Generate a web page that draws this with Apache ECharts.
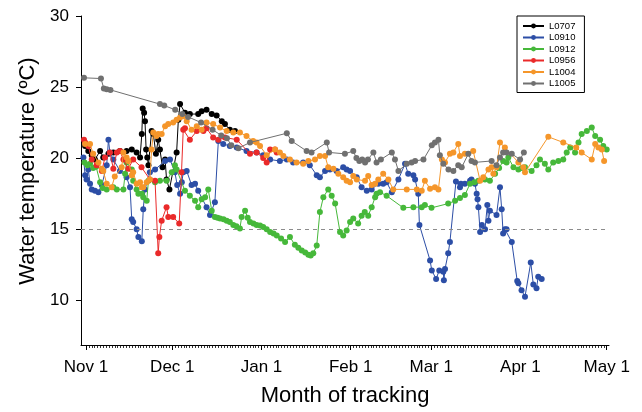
<!DOCTYPE html>
<html>
<head>
<meta charset="utf-8">
<script src="https://cdn.jsdelivr.net/npm/echarts@6/dist/echarts.min.js"></script>
<style>
  html, body { margin: 0; padding: 0; background: #fff; }
  #chart { width: 642px; height: 412px; }
</style>
</head>
<body>
<div id="chart"></div>
<script>
// Days are counted from Nov 1; temperatures in ºC.
const monthTicks = [0, 30, 61, 92, 120, 151, 181];
const monthLabels = ['Nov 1', 'Dec 1', 'Jan 1', 'Feb 1', 'Mar 1', 'Apr 1', 'May 1'];
const tempTicks = [10, 15, 20, 25, 30];
const threshold = 15;

const tagNames = ['L0707', 'L0910', 'L0912', 'L0956', 'L1004', 'L1005'];
const tagColors = ['#000000', '#2c4ea6', '#46b83a', '#ea2a2a', '#f5962a', '#707070'];

const L0707 = [[-0.3,20.85],[0.8,20.5],[2,20.2],[3.1,19.9],[4.9,20.5],[6,20.05],[7.8,20.3],[9.5,20.4],[11.8,20.5],[14.1,20.5],[15.9,20.6],[17.6,20.4],[18.8,20.05],[19.4,21.7],[19.7,23.5],[20.2,23.2],[20.5,22.6],[20.9,20.6],[21.3,20.05],[21.7,19.5],[22.8,21.9],[23.4,21.7],[24.3,20.3],[25.1,21.3],[25.7,20.6],[26.6,19.35],[27.5,19.9],[28,18.5],[29,17.8],[31.5,20.4],[32.1,22.7],[32.7,23.8],[34.4,23.2],[36.1,23.1],[39,23.1],[40.2,23.3],[41.9,23.4],[43.7,23.1],[45.4,23.0],[47.2,22.6],[48.3,22.4],[50,22.0],[51.8,21.9]];

const L0910 = [[-0.9,20.05],[-0.3,18.8],[0.2,18.5],[0.8,19.2],[1.4,18.2],[2,17.8],[3.1,17.7],[4.3,17.6],[5.5,18.1],[7.2,19.5],[7.8,21.3],[8.3,20.4],[9.5,19.9],[11.8,19.1],[14.1,18.65],[15.3,17.95],[15.9,15.7],[16.4,15.5],[17.6,15.0],[18.2,14.45],[19.4,14.15],[19.9,16.4],[20.5,17.8],[22.2,19.0],[24,19.2],[27.5,19.8],[29.2,19.9],[30.9,19.0],[31.7,18.1],[32.7,17.5],[33.3,18.3],[33.8,19.0],[35,19.1],[36.7,18.1],[37.9,18.2],[39,17.7],[41.9,16.55],[43.1,16.0],[44.8,16.9],[46,21.2],[47.7,21.0],[50,20.85],[52.4,20.75],[55.8,20.5],[59.3,20.4],[61.6,20.2],[64,19.9],[67.4,19.8],[69.8,19.9],[72,19.7],[75.5,19.7],[77.8,19.5],[80.2,18.8],[81.3,18.65],[83.1,19.1],[84.8,19.2],[87.1,19.1],[89.4,19.35],[90.6,19.2],[91.8,19.1],[94.1,18.65],[95.8,17.95],[97.6,17.7],[99.3,17.8],[101.6,18.2],[103.3,18.2],[104.5,18.3],[106.3,17.6],[108.6,18.5],[110.9,19.6],[112,18.9],[113.8,18.8],[114.4,18.5],[115.5,17.5],[115.9,15.3],[119.6,12.8],[120.2,12.1],[121.7,11.5],[122.8,12.1],[124.2,12.0],[124.4,11.4],[124.8,12.2],[125.9,13.3],[126.5,14.1],[128.6,18.35],[130,17.95],[130.3,18.2],[131.7,18.2],[133.5,18.4],[134,18.5],[135.2,18.2],[135.8,17.5],[136.1,17.1],[136.4,16.55],[137,14.8],[137.6,15.3],[138.7,15.0],[139.5,16.7],[139.9,15.6],[140.4,16.3],[142.7,16.0],[143.9,17.95],[144.5,16.4],[145,14.7],[145.6,15.0],[146.2,15.0],[148,14.1],[149.9,11.35],[150.3,11.2],[151.4,10.7],[152.6,10.25],[154.6,12.65],[155.5,11.1],[156.6,10.85],[157.2,11.65],[158.4,11.5]];

const L0912 = [[-0.5,19.7],[0.5,19.5],[1.4,19.6],[2.5,19.3],[3.5,19.4],[4.9,18.3],[5.8,17.9],[7.2,17.8],[9.5,17.95],[10.7,17.8],[13,17.8],[13.6,18.9],[14.1,19.7],[15.9,19.2],[16.4,18.4],[17.6,17.8],[18.2,17.5],[19.4,17.5],[19.9,17.25],[21.1,17.0],[21.7,18.4],[24,18.3],[25.7,18.4],[28,18.4],[29.8,19.0],[30.9,19.5],[31.5,19.2],[34.4,17.7],[36.1,17.35],[37.9,17.0],[39,16.55],[40.2,17.1],[41.4,17.25],[42.5,17.8],[43.7,16.3],[44.8,15.85],[45.7,15.8],[46.6,15.75],[47.8,15.7],[48.9,15.6],[50,15.5],[51.2,15.3],[52.3,15.2],[53.5,15.05],[54.1,15.85],[55.3,16.3],[56.2,15.8],[57,15.5],[58.2,15.4],[59.3,15.3],[60.5,15.25],[61.6,15.15],[62.8,15.0],[64,14.8],[65.2,14.7],[66.3,14.55],[67.8,14.35],[69.2,14.1],[70.9,14.45],[72.6,13.9],[73.8,13.7],[75,13.5],[76.2,13.35],[77.3,13.2],[78.1,13.15],[79,13.3],[80.2,13.85],[81.3,16.2],[82.5,17.25],[84.2,17.8],[85.4,17.35],[86.6,16.8],[88.3,14.8],[89.4,14.55],[90.6,14.9],[91.8,15.5],[92.9,15.75],[94.6,15.4],[95.8,15.95],[96.9,16.2],[98.1,15.95],[99.3,16.55],[100.5,17.25],[101,17.5],[102.2,17.6],[104.5,17.35],[110.3,16.5],[113.8,16.55],[116.7,16.55],[117.8,16.7],[120.1,16.5],[125.9,16.8],[128.3,17.0],[130,17.2],[131.7,17.4],[133.5,18.2],[135,18.3],[136.4,18.4],[138.7,18.5],[140.4,18.4],[142.2,18.9],[143.6,19.3],[145,19.8],[146.2,19.7],[146.8,20.05],[148.6,19.35],[150.3,19.2],[151.5,19.3],[152.6,19.35],[154.9,19.1],[156.6,19.5],[157.8,19.9],[159.5,19.6],[160.7,19.2],[162.4,19.7],[164.2,19.8],[165.9,19.9],[167.1,20.4],[168.3,20.75],[170,20.4],[171.2,21.1],[172.3,21.7],[174.1,21.9],[175.8,22.15],[177,21.55],[178.7,21.3],[179.8,20.85],[181,20.6]];

const L0956 = [[-0.7,21.3],[-0.3,21.1],[0.8,20.85],[2,19.9],[3.7,19.5],[5.5,19.1],[6.6,20.05],[8.3,20.4],[9.5,19.25],[10.7,20.4],[11.8,20.5],[13,19.9],[14.7,19.25],[16.4,19.9],[19.3,19.35],[22.2,18.5],[24,18.4],[25.1,13.3],[25.5,14.45],[26.3,15.6],[28,16.55],[28.6,15.85],[30.3,15.85],[32.4,15.4],[33.2,19.0],[33.8,22.0],[34.4,22.1],[36.1,21.3],[38.5,21.9],[40.8,21.9],[41.9,22.1],[44.2,21.45],[46,21.3],[48.3,21.45],[52.4,21.3],[57,20.3],[59.3,20.4],[61.6,20.0],[62.8,19.7],[64,20.6],[65.7,20.6],[66.3,20.4]];

const L1004 = [[-0.3,21.0],[1.4,21.0],[2.5,20.3],[4.3,19.7],[5.5,19.25],[6,19.1],[7.2,18.2],[8.9,17.95],[10,18.7],[12.4,19.35],[13,20.4],[14.1,20.05],[14.7,19.8],[15.9,18.8],[16.4,19.0],[17.6,18.2],[18.8,18.3],[19.4,17.95],[19.9,17.95],[21.1,18.3],[22.2,18.5],[22.8,20.6],[23.4,21.8],[24.5,21.55],[25.1,21.7],[26.3,21.7],[27.5,22.25],[28.6,22.4],[30.3,22.5],[31.5,22.7],[32.7,22.85],[33.8,22.95],[35,22.6],[36.7,22.0],[38.5,22.25],[40.2,22.0],[41.9,22.5],[44.2,22.4],[46.6,22.15],[48.9,21.9],[51.2,21.8],[53.5,21.8],[55.8,21.55],[58.1,21.2],[59.3,21.1],[60.5,20.85],[62.8,20.2],[65.7,20.6],[67.4,20.4],[68.6,20.15],[70.9,19.9],[73.2,19.7],[75.5,19.6],[77.3,19.8],[79.6,19.9],[81.3,20.15],[83.1,20.15],[84.2,19.35],[86,19.25],[87.7,18.9],[89.4,18.65],[90.6,18.4],[91.8,18.3],[92.9,18.75],[94.1,18.5],[97,18.4],[98.1,18.75],[99.3,18.1],[100.5,18.2],[101.6,18.5],[103.3,18.9],[105.1,18.5],[106.8,17.8],[111.5,17.8],[115,17.8],[116.7,17.7],[117.8,18.4],[119.6,17.85],[121.3,17.95],[122.5,17.8],[123.7,19.9],[124.8,19.7],[126.5,20.3],[127.7,20.4],[129.4,21.0],[130,20.15],[131.7,20.3],[134.6,20.5],[137,18.4],[138.1,18.65],[139.9,19.2],[141,19.35],[141.6,18.9],[142.7,19.35],[143.9,21.1],[145.6,20.75],[150.3,19.7],[152,19.35],[152.6,19.0],[160.7,21.5],[165.9,21.1],[170.4,20.75],[172.3,20.4],[175.8,19.9],[177,21.0],[178.1,20.75],[179.3,20.6],[180.1,19.8]];

const L1005 = [[-0.7,25.65],[5.2,25.6],[6.2,24.9],[7.2,24.85],[8.5,24.8],[25.7,23.8],[27.2,23.7],[31,23.4],[33.5,23.1],[35.5,22.9],[40,22.5],[44,22.0],[47,21.6],[49,21.4],[50.5,20.9],[53,20.7],[57,21.1],[69.8,21.75],[71.5,21.2],[76.7,20.5],[78.4,20.4],[83.7,21.1],[84.5,20.4],[90,20.3],[92.9,20.5],[94,20.0],[95,19.8],[96,19.9],[97,19.7],[98,19.9],[99.9,20.4],[101,19.7],[102.5,19.9],[106.3,20.4],[107.4,19.9],[108.6,19.1],[111.5,19.6],[113.2,19.7],[114.4,19.8],[117.3,19.9],[120.2,20.9],[121.3,21.1],[122.5,21.3],[123,20.2],[124.2,19.6],[126,19.2],[127.7,19.1],[129.4,19.5],[130.6,19.35],[132.9,20.3],[134,19.8],[135.2,19.7],[141,19.8],[142.7,19.5],[143.9,20.05],[145,20.4],[146.2,20.4],[148,20.3],[150.9,19.9],[152.2,20.4]];

const tagData = [L0707, L0910, L0912, L0956, L1004, L1005];

const dayTicks = [];
for (let d = 0; d <= monthTicks[monthTicks.length - 1]; d++) dayTicks.push(d);

const FONT = 'Liberation Sans, Arial, Helvetica, sans-serif';
const xMin = -1.74, xMax = 181.8;

const series = tagNames.map((name, i) => ({
  name: name,
  type: 'line',
  data: tagData[i],
  xAxisIndex: 0,
  yAxisIndex: 0,
  symbol: 'circle',
  symbolSize: 6,
  showSymbol: true,
  color: tagColors[i],
  lineStyle: { width: 1, color: tagColors[i] },
  itemStyle: { color: tagColors[i] },
  emphasis: { disabled: true },
  animation: false,
  z: 3 + i
}));

// Dashed reference line at 15 ºC
series.push({
  type: 'line',
  data: [],
  silent: true,
  markLine: {
    silent: true,
    symbol: 'none',
    label: { show: false },
    lineStyle: { type: [4, 4], color: '#8c8c8c', width: 1.2 },
    data: [{ yAxis: threshold }]
  },
  z: 1
});

const chart = echarts.init(document.getElementById('chart'), null, { renderer: 'canvas' });
chart.setOption({
  backgroundColor: '#ffffff',
  animation: false,
  textStyle: { fontFamily: FONT },
  grid: { left: 81, top: 16, width: 528, height: 331.5, containLabel: false },
  legend: {
    data: tagNames,
    orient: 'vertical',
    left: 517,
    top: 16,
    padding: [5, 9, 4, 5],
    borderColor: '#000',
    borderWidth: 1,
    itemWidth: 21,
    itemHeight: 6,
    itemGap: 1.5,
    textStyle: { fontSize: 9.5, lineHeight: 10, color: '#000', fontFamily: FONT }
  },
  xAxis: [
    {
      type: 'value', min: xMin, max: xMax,
      axisLine: { show: true, onZero: false, lineStyle: { color: '#000', width: 1 } },
      splitLine: { show: false },
      axisTick: { show: true, customValues: monthTicks, length: 5, lineStyle: { color: '#000' } },
      axisLabel: {
        customValues: monthTicks,
        formatter: v => monthLabels[monthTicks.indexOf(v)],
        fontSize: 17, color: '#000', margin: 14, fontFamily: FONT
      },
      name: 'Month of tracking',
      nameLocation: 'middle',
      nameGap: 40,
      nameTextStyle: { fontSize: 22, color: '#000', fontFamily: FONT }
    },
    {
      type: 'value', min: xMin, max: xMax, position: 'bottom',
      axisLine: { show: false },
      splitLine: { show: false },
      axisTick: { show: true, customValues: dayTicks, length: 3, lineStyle: { color: '#000', width: 0.8 } },
      axisLabel: { show: false }
    }
  ],
  yAxis: {
    type: 'value', min: 6.85, max: 30,
    axisLine: { show: true, onZero: false, lineStyle: { color: '#000', width: 1 } },
    splitLine: { show: false },
    axisTick: { show: true, customValues: tempTicks, length: 5, lineStyle: { color: '#000' } },
    axisLabel: { customValues: tempTicks, fontSize: 17, color: '#000', margin: 12, fontFamily: FONT }
  },
  graphic: [{
    type: 'text',
    x: 28,
    y: 171,
    rotation: Math.PI / 2,
    style: {
      text: 'Water temperature (ºC)',
      fontSize: 22,
      fontFamily: FONT,
      fill: '#000',
      align: 'center',
      verticalAlign: 'middle'
    }
  }],
  series: series
});
</script>
</body>
</html>
